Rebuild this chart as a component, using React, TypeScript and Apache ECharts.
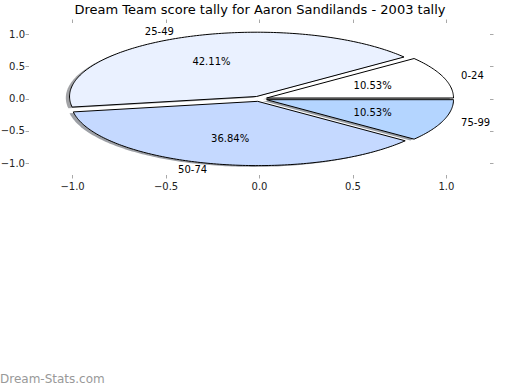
import React, { useEffect, useRef } from "react";
import * as echarts from "echarts";

const categories = ["0-24", "25-49", "50-74", "75-99"];
const counts = [2, 8, 7, 2];
const sliceColors = ["#ffffff", "#eaf1ff", "#c5d9ff", "#b4d5ff"];
const explode = [0.04, 0.04, 0.04, 0.04];
const tickValues = [-1, -0.5, 0, 0.5, 1];
const titleText = "Dream Team score tally for Aaron Sandilands - 2003 tally";
const watermarkText = "Dream-Stats.com";

const FONT = '"DejaVu Sans", sans-serif';

const total = counts.reduce((a, b) => a + b, 0);
const startAngles: number[] = [];
const endAngles: number[] = [];
{
  let acc = 0;
  counts.forEach((c) => {
    startAngles.push((360 * acc) / total);
    acc += c;
    endAngles.push((360 * acc) / total);
  });
}

function hexToRgb(h: string) {
  const v = parseInt(h.slice(1), 16);
  return [(v >> 16) & 255, (v >> 8) & 255, v & 255];
}

function wedgePoints(api: any, i: number, dx: number, dy: number) {
  const t1 = startAngles[i];
  const t2 = endAngles[i];
  const mid = (((t1 + t2) / 2) * Math.PI) / 180;
  const cx = explode[i] * Math.cos(mid) + dx;
  const cy = explode[i] * Math.sin(mid) + dy;
  const pts: number[][] = [api.coord([cx, cy])];
  const n = Math.max(2, Math.ceil(t2 - t1));
  for (let k = 0; k <= n; k++) {
    const a = ((t1 + ((t2 - t1) * k) / n) * Math.PI) / 180;
    pts.push(api.coord([cx + Math.cos(a), cy + Math.sin(a)]));
  }
  return pts;
}

const fmt = (v: number) => v.toFixed(1).replace("-", "\u2212");

export default function App() {
  const ref = useRef<HTMLDivElement>(null);
  useEffect(() => {
    if (!ref.current) return;
    const chart = echarts.init(ref.current, undefined, { renderer: "svg" });
    const xMin = -1.233;
    const xMax = 1.233;
    const yMin = -1.185;
    const yMax = 1.18;
    const tickStyle = { color: "#a8a8a8", width: 1 };
    const hiddenLine = { show: true, onZero: false, lineStyle: { color: "#ffffff", opacity: 0 } };
    const data = counts.map((c, i) => ({ name: categories[i], value: [0, 0, c] }));
    chart.setOption({
      animation: false,
      title: {
        text: titleText,
        left: "center",
        top: 3,
        padding: 0,
        textStyle: { fontSize: 13, fontWeight: "normal", fontFamily: FONT, color: "#000" },
      },
      grid: {
        left: 29,
        right: 30,
        top: 23,
        bottom: 215,
        containLabel: false,
        outerBoundsMode: "none",
      },
      xAxis: [
        {
          type: "value",
          position: "bottom",
          min: xMin,
          max: xMax,
          axisLine: hiddenLine,
          splitLine: { show: false },
          axisTick: { show: true, customValues: tickValues, length: 3.5, lineStyle: tickStyle },
          axisLabel: {
            customValues: tickValues,
            formatter: fmt,
            margin: 6,
            fontSize: 10,
            fontFamily: FONT,
            color: "#222",
          },
        },
        {
          type: "value",
          position: "top",
          min: xMin,
          max: xMax,
          axisLine: hiddenLine,
          splitLine: { show: false },
          axisTick: { show: true, customValues: tickValues, length: 3.5, lineStyle: tickStyle },
          axisLabel: { show: false },
        },
      ],
      yAxis: [
        {
          type: "value",
          position: "left",
          min: yMin,
          max: yMax,
          axisLine: hiddenLine,
          splitLine: { show: false },
          axisTick: { show: true, customValues: tickValues, length: 3.5, lineStyle: tickStyle },
          axisLabel: {
            customValues: tickValues,
            formatter: fmt,
            margin: 4,
            fontSize: 10,
            fontFamily: FONT,
            color: "#222",
          },
        },
        {
          type: "value",
          position: "right",
          min: yMin,
          max: yMax,
          axisLine: hiddenLine,
          splitLine: { show: false },
          axisTick: { show: true, customValues: tickValues, length: 3.5, lineStyle: tickStyle },
          axisLabel: { show: false },
        },
      ],
      graphic: [
        {
          type: "text",
          left: 0,
          top: 373,
          style: { text: watermarkText, fill: "#999", font: `12px ${FONT}` },
        },
      ],
      series: [
        {
          type: "custom",
          name: "shadow",
          xAxisIndex: 0,
          yAxisIndex: 0,
          z: 1,
          clip: false,
          data,
          renderItem: (params: any, api: any) => {
            const i = params.dataIndex;
            const [r, g, b] = hexToRgb(sliceColors[i]);
            return {
              type: "polygon",
              shape: { points: wedgePoints(api, i, -0.02, -0.02) },
              style: {
                fill: `rgba(${Math.round(r * 0.3)},${Math.round(g * 0.3)},${Math.round(b * 0.3)},0.5)`,
                stroke: "none",
              },
            };
          },
        },
        {
          type: "custom",
          name: "wedges",
          xAxisIndex: 0,
          yAxisIndex: 0,
          z: 2,
          clip: false,
          data,
          renderItem: (params: any, api: any) => {
            const i = params.dataIndex;
            const t1 = startAngles[i];
            const t2 = endAngles[i];
            const mid = (((t1 + t2) / 2) * Math.PI) / 180;
            const ex = explode[i] * Math.cos(mid);
            const ey = explode[i] * Math.sin(mid);
            const labelPos = api.coord([ex + 1.1 * Math.cos(mid), ey + 1.1 * Math.sin(mid)]);
            const pctPos = api.coord([ex + 0.6 * Math.cos(mid), ey + 0.6 * Math.sin(mid)]);
            const pct = ((100 * api.value(2)) / total).toFixed(2) + "%";
            const labelX = ex + 1.1 * Math.cos(mid);
            return {
              type: "group",
              children: [
                {
                  type: "polygon",
                  z2: 1,
                  shape: { points: wedgePoints(api, i, 0, 0) },
                  style: { fill: sliceColors[i], stroke: "#000", lineWidth: 1 },
                },
                {
                  type: "text",
                  z2: 10,
                  x: labelPos[0],
                  y: labelPos[1],
                  style: {
                    text: categories[i],
                    fill: "#000",
                    font: `10px ${FONT}`,
                    align: labelX > 0 ? "left" : "right",
                    verticalAlign: "middle",
                  },
                },
                {
                  type: "text",
                  z2: 10,
                  x: pctPos[0],
                  y: pctPos[1],
                  style: {
                    text: pct,
                    fill: "#000",
                    font: `10px ${FONT}`,
                    align: "center",
                    verticalAlign: "middle",
                  },
                },
              ],
            };
          },
        },
      ],
    });
    return () => chart.dispose();
  }, []);
  return (
    <div
      ref={ref}
      style={{ position: "fixed", left: 0, top: 0, width: 520, height: 390, background: "#fff" }}
    />
  );
}
